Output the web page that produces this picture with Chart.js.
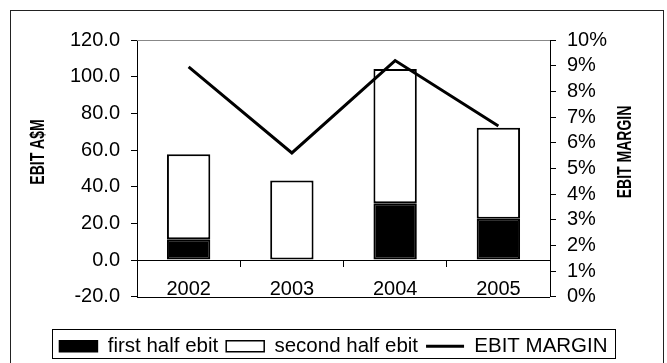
<!DOCTYPE html>
<html>
<head>
<meta charset="utf-8">
<script src="https://cdn.jsdelivr.net/npm/chart.js@4"></script>
<style>
  html, body { margin: 0; padding: 0; background: #fff; }
  canvas { display: block; }
</style>
</head>
<body>
<canvas id="ebitChart" width="667" height="363"></canvas>
<script>
const years = ['2002', '2003', '2004', '2005'];
const firstHalf = [11.4, 0, 31.0, 22.5];
const secondHalf = [46.3, 43.4, 73.2, 49.7];
const ebitMargin = [8.95, 5.6, 9.2, 6.65]; // percent

const FONT = "'Liberation Sans', Arial, sans-serif";

// frame, plot edges, legend box and axis titles
const decorations = {
  id: 'decorations',
  beforeDraw(chart) {
    const { ctx } = chart;
    ctx.save();
    ctx.fillStyle = '#fff';
    ctx.fillRect(0, 0, chart.width, chart.height);
    ctx.restore();
  },
  afterDraw(chart) {
    const { ctx, chartArea: a } = chart;
    ctx.save();
    ctx.lineWidth = 1;

    ctx.strokeStyle = '#222';
    ctx.strokeRect(10.5, 10.5, 653, 360);

    ctx.strokeStyle = '#888';
    ctx.beginPath();
    ctx.moveTo(a.left, Math.round(a.top) + 0.5);
    ctx.lineTo(a.right, Math.round(a.top) + 0.5);
    ctx.stroke();

    ctx.strokeStyle = '#000';
    ctx.beginPath();
    ctx.moveTo(a.left, Math.round(a.bottom) + 0.5);
    ctx.lineTo(a.right, Math.round(a.bottom) + 0.5);
    ctx.stroke();

    const boxes = chart.legend.legendHitBoxes;
    if (boxes && boxes.length) {
      const x0 = Math.min(...boxes.map(b => b.left));
      const x1 = Math.max(...boxes.map(b => b.left + b.width));
      const top = boxes[0].top;
      ctx.strokeStyle = '#000';
      ctx.strokeRect(Math.round(x0 - 7) + 0.5, Math.round(top - 7) + 0.5, Math.round(x1 - x0 + 15), 29);
    }

    // axis titles, read bottom to top on both sides
    ctx.fillStyle = '#000';
    ctx.font = 'bold 14px ' + FONT;
    ctx.textAlign = 'center';
    ctx.textBaseline = 'middle';
    const midY = 152;
    [['EBIT A$M', 39], ['EBIT MARGIN', 626]].forEach(([text, x]) => {
      ctx.save();
      ctx.translate(x, midY);
      ctx.scale(1.4, 1);
      ctx.rotate(-Math.PI / 2);
      ctx.fillText(text, 0, 0);
      ctx.restore();
    });
    ctx.restore();
  }
};

new Chart(document.getElementById('ebitChart'), {
  data: {
    labels: years,
    datasets: [
      {
        type: 'bar',
        label: 'first half ebit',
        data: firstHalf,
        backgroundColor: '#000',
        borderColor: '#000',
        borderWidth: 2,
        borderSkipped: false,
        categoryPercentage: 1,
        barPercentage: 0.42,
        order: 1,
      },
      {
        type: 'bar',
        label: 'second half ebit',
        data: secondHalf,
        backgroundColor: '#fff',
        borderColor: '#000',
        borderWidth: 2,
        borderSkipped: false,
        categoryPercentage: 1,
        barPercentage: 0.42,
        order: 1,
      },
      {
        type: 'line',
        label: 'EBIT MARGIN',
        data: ebitMargin,
        yAxisID: 'y1',
        borderColor: '#000',
        backgroundColor: '#000',
        borderWidth: 3,
        pointRadius: 0,
        tension: 0,
        fill: false,
        order: 0,
      },
    ],
  },
  options: {
    responsive: false,
    animation: false,
    devicePixelRatio: 1,
    layout: { padding: { left: 12, right: 12, top: 40, bottom: -3.5 } },
    plugins: {
      tooltip: { enabled: false },
      legend: {
        position: 'bottom',
        title: { display: true, text: '', font: { size: 1 }, padding: { top: 30, bottom: 0 } },
        labels: {
          color: '#000',
          font: { family: FONT, size: 20.5 },
          usePointStyle: true,
          pointStyleWidth: 38,
          boxHeight: 11,
          padding: 8,
          sort: (a, b) => a.datasetIndex - b.datasetIndex,
          generateLabels: chart =>
            Chart.defaults.plugins.legend.labels.generateLabels(chart).map(item => ({
              ...item,
              pointStyle: chart.data.datasets[item.datasetIndex].type === 'line' ? 'line' : 'rect',
              lineWidth: chart.data.datasets[item.datasetIndex].type === 'line' ? 3 : 1.5,
            })),
        },
      },
    },
    scales: {
      x: {
        stacked: true,
        position: { y: 0 },
        grid: { offset: true, drawOnChartArea: false, drawTicks: true, tickLength: 6, color: '#000' },
        border: { display: true, color: '#000' },
        ticks: { color: '#000', font: { family: FONT, size: 20 }, padding: 11 },
      },
      y: {
        stacked: true,
        position: 'left',
        min: -20,
        max: 120,
        afterFit: s => { s.width = 125; },
        grid: { drawOnChartArea: false, drawTicks: true, tickLength: 6, color: '#000' },
        border: { display: true, color: '#000' },
        ticks: {
          stepSize: 20,
          autoSkip: false,
          color: '#000',
          font: { family: FONT, size: 20 },
          padding: 11,
          callback: v => v.toFixed(1),
        },
      },
      y1: {
        position: 'right',
        min: 0,
        max: 10,
        afterFit: s => { s.width = 105; },
        grid: { drawOnChartArea: false, drawTicks: true, tickLength: 6, color: '#000' },
        border: { display: true, color: '#000' },
        ticks: {
          stepSize: 1,
          autoSkip: false,
          color: '#000',
          font: { family: FONT, size: 20 },
          padding: 11,
          callback: v => v + '%',
        },
      },
    },
  },
  plugins: [decorations],
});
</script>
</body>
</html>
